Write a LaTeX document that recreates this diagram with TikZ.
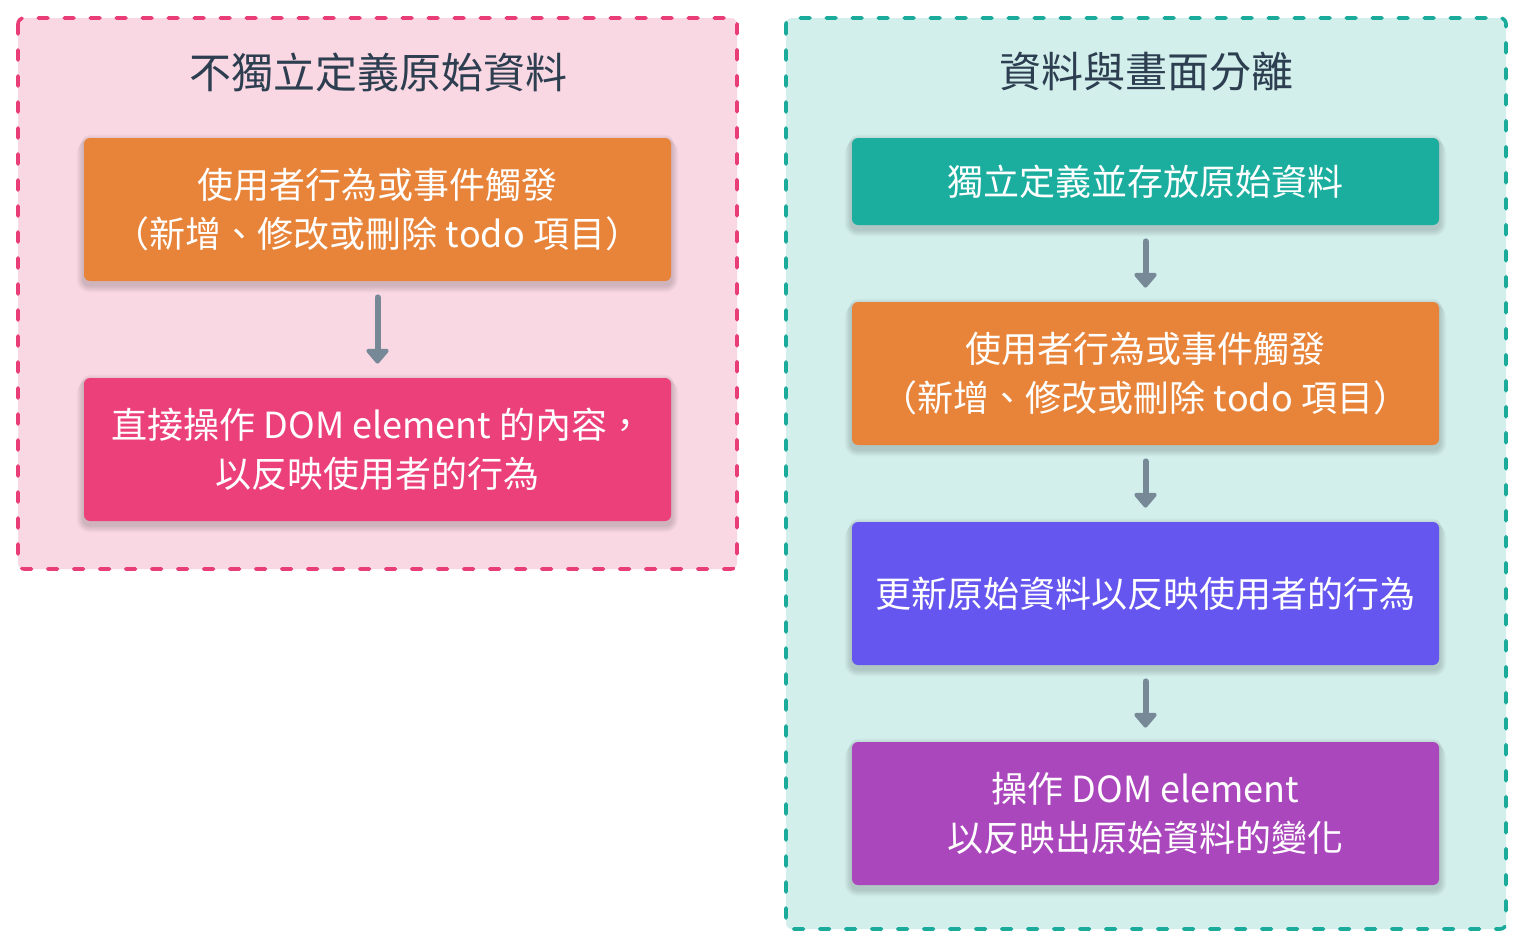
\documentclass[tikz,border=0pt]{standalone}
\usepackage{fontspec}
\setmainfont{Noto Sans CJK TC}
\usetikzlibrary{arrows.meta}
\pgfdeclarelayer{back}
\pgfdeclarelayer{shade}
\pgfsetlayers{back,shade,main}
\definecolor{pinkbg}{HTML}{F9D8E3}
\definecolor{pinkbd}{HTML}{E93D77}
\definecolor{tealbg}{HTML}{D2EFEC}
\definecolor{tealbd}{HTML}{1AAB9B}
\definecolor{orangebox}{HTML}{E8843A}
\definecolor{pinkbox}{HTML}{EC407A}
\definecolor{tealbox}{HTML}{1BAE9F}
\definecolor{bluebox}{HTML}{6656F0}
\definecolor{purplebox}{HTML}{AB47BC}
\definecolor{titlecol}{HTML}{2C3E50}
\definecolor{arrowcol}{HTML}{778896}
\tikzset{
  panel/.style={draw=#1, line width=1.8pt, dash pattern=on 5pt off 8pt, line cap=round, rounded corners=3pt},
  flowbox/.style={fill=#1, rounded corners=3pt, draw=none, text=white,
    font=\fontsize{18}{24.5}\selectfont, align=center,
    minimum width=293.5pt, inner sep=0pt},
  tallbox/.style={minimum height=71.5pt},
  shortbox/.style={minimum height=43.5pt},
  softshadow/.style={fill=black, fill opacity=0.022, draw=none},
  titletext/.style={text=titlecol, font=\fontsize{21}{26}\selectfont},
  flowarrow/.style={draw=arrowcol, line width=3pt, line cap=round,
    shorten <=8pt, shorten >=7pt,
    -{Triangle[width=13pt,length=8pt,round]}}
}
\newcommand{\shadowof}[1]{%
  \begin{pgfonlayer}{shade}
  \foreach \s in {1,...,7} {
    \path[softshadow, rounded corners=3pt+\s*0.5pt]
      ([xshift=-\s*0.5pt, yshift={(2-\s*0.5)*1pt}]#1.north west) rectangle
      ([xshift=\s*0.5pt, yshift={(-2-\s*0.5)*1pt}]#1.south east);
  }
  \end{pgfonlayer}%
}
\begin{document}
\begin{tikzpicture}[x=0.5pt,y=-0.5pt]
\useasboundingbox (0,0) rectangle (1524,948);
% panels
\begin{pgfonlayer}{back}
\draw[panel=pinkbd, fill=pinkbg] (18,18) rectangle (737,569);
\draw[panel=tealbd, fill=tealbg] (786,18) rectangle (1506,929);
\end{pgfonlayer}
\node[titletext] (t1) at (378,72) {不獨立定義原始資料};
\node[titletext] (t2) at (1146,72) {資料與畫面分離};
% left boxes
\node[flowbox=orangebox, tallbox] (l1) at (377.5,209.5) {使用者行為或事件觸發\\（新增、修改或刪除 todo 項目）};
\node[flowbox=pinkbox, tallbox] (l2) at (377.5,449.5) {直接操作 DOM element 的內容，\\以反映使用者的行為};
\shadowof{l1}
\shadowof{l2}
\draw[flowarrow] (l1) -- (l2);
% right boxes
\node[flowbox=tealbox, shortbox] (r1) at (1145.5,181.5) {獨立定義並存放原始資料};
\node[flowbox=orangebox, tallbox] (r2) at (1145.5,373.5) {使用者行為或事件觸發\\（新增、修改或刪除 todo 項目）};
\node[flowbox=bluebox, tallbox] (r3) at (1145.5,593.5) {更新原始資料以反映使用者的行為};
\node[flowbox=purplebox, tallbox] (r4) at (1145.5,813.5) {操作 DOM element\\以反映出原始資料的變化};
\shadowof{r1}
\shadowof{r2}
\shadowof{r3}
\shadowof{r4}
\draw[flowarrow] (r1) -- (r2);
\draw[flowarrow] (r2) -- (r3);
\draw[flowarrow] (r3) -- (r4);
\end{tikzpicture}
\end{document}
